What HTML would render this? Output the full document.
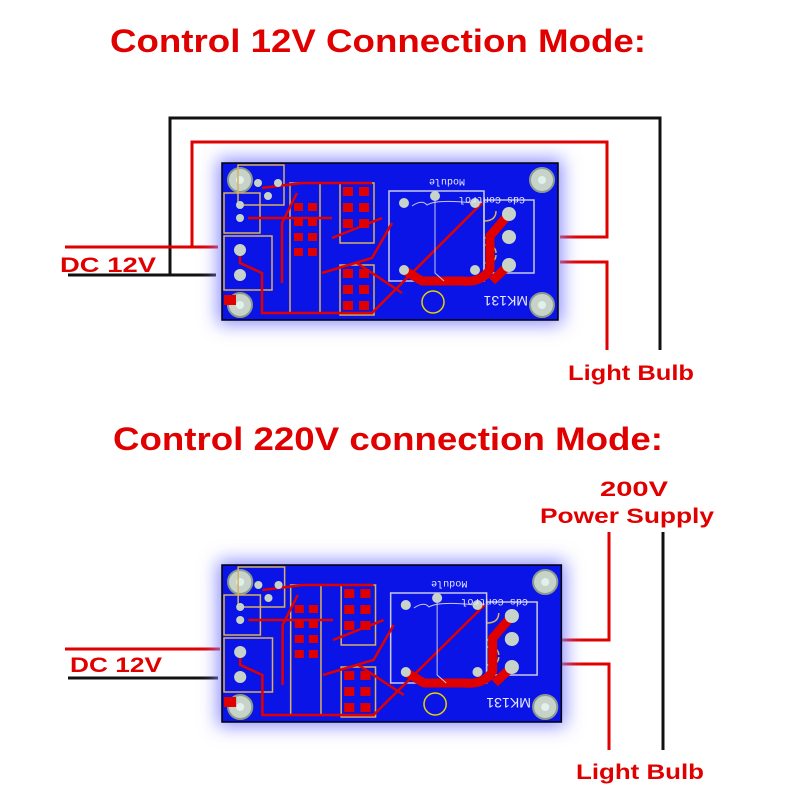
<!DOCTYPE html>
<html><head><meta charset="utf-8"><style>
html,body{margin:0;padding:0;background:#fff}
svg{display:block}
.t{font-family:"Liberation Sans",sans-serif;font-weight:bold;fill:#e00000}
</style></head><body>
<svg width="800" height="800" viewBox="0 0 800 800" xmlns="http://www.w3.org/2000/svg">
<defs>
<filter id="glow" x="-20%" y="-30%" width="140%" height="160%"><feGaussianBlur stdDeviation="9"/></filter>
</defs>
<rect width="800" height="800" fill="#fff"/>

<text class="t" x="110" y="52" font-size="32" textLength="536" lengthAdjust="spacingAndGlyphs">Control 12V Connection Mode:</text>
<text class="t" x="113" y="450" font-size="32" textLength="550" lengthAdjust="spacingAndGlyphs">Control 220V connection Mode:</text>

<!-- top wiring -->
<g fill="none" stroke-width="3">
<path d="M170 275 V118 H660 V350" stroke="#111"/>
<path d="M68 275 H216" stroke="#111"/>
<path d="M65 247 H192 V142 H607 V237 H560" stroke="#e00000"/>
<path d="M192 247 H218" stroke="#e00000"/>
<path d="M560 262 H607 V350" stroke="#e00000"/>
</g>
<text class="t" x="60" y="272" font-size="21" textLength="96" lengthAdjust="spacingAndGlyphs">DC 12V</text>
<text class="t" x="568" y="380" font-size="21" textLength="126" lengthAdjust="spacingAndGlyphs">Light Bulb</text>

<!-- bottom wiring -->
<g fill="none" stroke-width="3">
<path d="M65 649 H220" stroke="#e00000"/>
<path d="M68 678 H218" stroke="#111"/>
<path d="M562 640 H609 V532" stroke="#e00000"/>
<path d="M562 664 H609 V750" stroke="#e00000"/>
<path d="M663 532 V750" stroke="#111"/>
</g>
<text class="t" x="70" y="672" font-size="21" textLength="92" lengthAdjust="spacingAndGlyphs">DC 12V</text>
<text class="t" x="600" y="496" font-size="21" textLength="68" lengthAdjust="spacingAndGlyphs">200V</text>
<text class="t" x="540" y="523" font-size="21" textLength="174" lengthAdjust="spacingAndGlyphs">Power Supply</text>
<text class="t" x="576" y="779" font-size="21" textLength="128" lengthAdjust="spacingAndGlyphs">Light Bulb</text>

<!-- top PCB -->
<g transform="translate(222,163)">
<rect x="-4" y="-4" width="344" height="165" fill="#8a8aff" filter="url(#glow)"/>
<rect x="0" y="0" width="336" height="157" fill="#0a14e6" stroke="#000" stroke-width="1.5"/>
<g fill="#c7d3c8" stroke="#8a9a8e" stroke-width="2"><circle cx="18" cy="17" r="12"/><circle cx="320" cy="17" r="12"/><circle cx="18" cy="142" r="12"/><circle cx="320" cy="142" r="12"/></g>
<g fill="#e0f0ea"><circle cx="18" cy="17" r="4"/><circle cx="320" cy="17" r="4"/><circle cx="18" cy="142" r="4"/><circle cx="320" cy="142" r="4"/></g>
<g fill="none" stroke="#d8b060" stroke-width="1.5">
<rect x="2" y="30" width="36" height="40"/><rect x="2" y="73" width="48" height="54"/>
<rect x="16" y="2" width="46" height="40"/><rect x="68" y="20" width="30" height="130"/><rect x="118" y="20" width="34" height="60"/><rect x="118" y="102" width="34" height="50"/>
<path d="M262 58 q12 0 12 -10 M262 75 q12 0 12 -8 M262 82 q12 0 12 8 M262 100 q12 0 12 -8"/>
</g>
<g fill="none" stroke="#c8c8e0" stroke-width="1.5"><rect x="167" y="28" width="95" height="90"/><rect x="262" y="37" width="50" height="73"/></g>
<g fill="none" stroke="#e00000" stroke-width="2.5">
<path d="M26 55 H110 M40 25 L80 20 H150 M18 87 V100 L40 110 V150 H150 L260 40 M75 30 L60 60 V120 M110 75 L160 55 M100 110 L150 95 L170 60 M180 130 L135 100"/>
</g>
<path d="M287 51 L268 73 V106 Q260 120 240 118 H200 L180 106" fill="none" stroke="#e00000" stroke-width="9" stroke-linejoin="round"/>
<path d="M287 102 L270 118" stroke="#e00000" stroke-width="9"/>
<g fill="#e00000">
<rect x="72" y="40" width="9" height="8"/><rect x="86" y="40" width="9" height="8"/><rect x="72" y="55" width="9" height="8"/><rect x="86" y="55" width="9" height="8"/><rect x="72" y="70" width="9" height="8"/><rect x="86" y="70" width="9" height="8"/><rect x="72" y="85" width="9" height="8"/><rect x="86" y="85" width="9" height="8"/>
<rect x="121" y="24" width="10" height="9"/><rect x="137" y="24" width="10" height="9"/><rect x="121" y="40" width="10" height="9"/><rect x="137" y="40" width="10" height="9"/><rect x="121" y="56" width="10" height="9"/><rect x="137" y="56" width="10" height="9"/>
<rect x="121" y="106" width="10" height="9"/><rect x="137" y="106" width="10" height="9"/><rect x="121" y="122" width="10" height="9"/><rect x="137" y="122" width="10" height="9"/><rect x="121" y="138" width="10" height="9"/><rect x="137" y="138" width="10" height="9"/>
<rect x="2" y="132" width="12" height="10"/>
</g>
<g fill="#c7d3c8"><circle cx="18" cy="42" r="4"/><circle cx="18" cy="55" r="4"/><circle cx="18" cy="87" r="6"/><circle cx="18" cy="112" r="6"/><circle cx="36" cy="20" r="4"/><circle cx="56" cy="20" r="4"/><circle cx="46" cy="33" r="4"/>
<circle cx="182" cy="40" r="5"/><circle cx="213" cy="33" r="5"/><circle cx="253" cy="40" r="5"/><circle cx="182" cy="107" r="5"/><circle cx="253" cy="107" r="5"/>
<circle cx="287" cy="51" r="7"/><circle cx="287" cy="74" r="7"/><circle cx="287" cy="102" r="7"/></g>
<circle cx="211" cy="139" r="11" fill="none" stroke="#e8d000" stroke-width="1.5"/>
<path d="M190 43 Q200 36 205 42 Q215 36 250 40 M213 33 V110 L222 118" fill="none" stroke="#c8c8e0" stroke-width="1"/>
<text transform="translate(243,16) rotate(180)" font-family="Liberation Mono,monospace" font-size="10" fill="#e8e8ff">Module</text>
<text transform="translate(303,34) rotate(180)" font-family="Liberation Mono,monospace" font-size="10" fill="#e8e8ff">Cds Control</text>
<text transform="translate(306,133) rotate(180)" font-family="Liberation Sans,sans-serif" font-size="14" fill="#e8e8ff">MK131</text>
</g>

<!-- bottom PCB -->
<g transform="translate(222,565) scale(1.01,1.0)">
<rect x="-4" y="-4" width="344" height="165" fill="#8a8aff" filter="url(#glow)"/>
<rect x="0" y="0" width="336" height="157" fill="#0a14e6" stroke="#000" stroke-width="1.5"/>
<g fill="#c7d3c8" stroke="#8a9a8e" stroke-width="2"><circle cx="18" cy="17" r="12"/><circle cx="320" cy="17" r="12"/><circle cx="18" cy="142" r="12"/><circle cx="320" cy="142" r="12"/></g>
<g fill="#e0f0ea"><circle cx="18" cy="17" r="4"/><circle cx="320" cy="17" r="4"/><circle cx="18" cy="142" r="4"/><circle cx="320" cy="142" r="4"/></g>
<g fill="none" stroke="#d8b060" stroke-width="1.5">
<rect x="2" y="30" width="36" height="40"/><rect x="2" y="73" width="48" height="54"/>
<rect x="16" y="2" width="46" height="40"/><rect x="68" y="20" width="30" height="130"/><rect x="118" y="20" width="34" height="60"/><rect x="118" y="102" width="34" height="50"/>
<path d="M262 58 q12 0 12 -10 M262 75 q12 0 12 -8 M262 82 q12 0 12 8 M262 100 q12 0 12 -8"/>
</g>
<g fill="none" stroke="#c8c8e0" stroke-width="1.5"><rect x="167" y="28" width="95" height="90"/><rect x="262" y="37" width="50" height="73"/></g>
<g fill="none" stroke="#e00000" stroke-width="2.5">
<path d="M26 55 H110 M40 25 L80 20 H150 M18 87 V100 L40 110 V150 H150 L260 40 M75 30 L60 60 V120 M110 75 L160 55 M100 110 L150 95 L170 60 M180 130 L135 100"/>
</g>
<path d="M287 51 L268 73 V106 Q260 120 240 118 H200 L180 106" fill="none" stroke="#e00000" stroke-width="9" stroke-linejoin="round"/>
<path d="M287 102 L270 118" stroke="#e00000" stroke-width="9"/>
<g fill="#e00000">
<rect x="72" y="40" width="9" height="8"/><rect x="86" y="40" width="9" height="8"/><rect x="72" y="55" width="9" height="8"/><rect x="86" y="55" width="9" height="8"/><rect x="72" y="70" width="9" height="8"/><rect x="86" y="70" width="9" height="8"/><rect x="72" y="85" width="9" height="8"/><rect x="86" y="85" width="9" height="8"/>
<rect x="121" y="24" width="10" height="9"/><rect x="137" y="24" width="10" height="9"/><rect x="121" y="40" width="10" height="9"/><rect x="137" y="40" width="10" height="9"/><rect x="121" y="56" width="10" height="9"/><rect x="137" y="56" width="10" height="9"/>
<rect x="121" y="106" width="10" height="9"/><rect x="137" y="106" width="10" height="9"/><rect x="121" y="122" width="10" height="9"/><rect x="137" y="122" width="10" height="9"/><rect x="121" y="138" width="10" height="9"/><rect x="137" y="138" width="10" height="9"/>
<rect x="2" y="132" width="12" height="10"/>
</g>
<g fill="#c7d3c8"><circle cx="18" cy="42" r="4"/><circle cx="18" cy="55" r="4"/><circle cx="18" cy="87" r="6"/><circle cx="18" cy="112" r="6"/><circle cx="36" cy="20" r="4"/><circle cx="56" cy="20" r="4"/><circle cx="46" cy="33" r="4"/>
<circle cx="182" cy="40" r="5"/><circle cx="213" cy="33" r="5"/><circle cx="253" cy="40" r="5"/><circle cx="182" cy="107" r="5"/><circle cx="253" cy="107" r="5"/>
<circle cx="287" cy="51" r="7"/><circle cx="287" cy="74" r="7"/><circle cx="287" cy="102" r="7"/></g>
<circle cx="211" cy="139" r="11" fill="none" stroke="#e8d000" stroke-width="1.5"/>
<path d="M190 43 Q200 36 205 42 Q215 36 250 40 M213 33 V110 L222 118" fill="none" stroke="#c8c8e0" stroke-width="1"/>
<text transform="translate(243,16) rotate(180)" font-family="Liberation Mono,monospace" font-size="10" fill="#e8e8ff">Module</text>
<text transform="translate(303,34) rotate(180)" font-family="Liberation Mono,monospace" font-size="10" fill="#e8e8ff">Cds Control</text>
<text transform="translate(306,133) rotate(180)" font-family="Liberation Sans,sans-serif" font-size="14" fill="#e8e8ff">MK131</text>
</g>
</svg>
</body></html>
